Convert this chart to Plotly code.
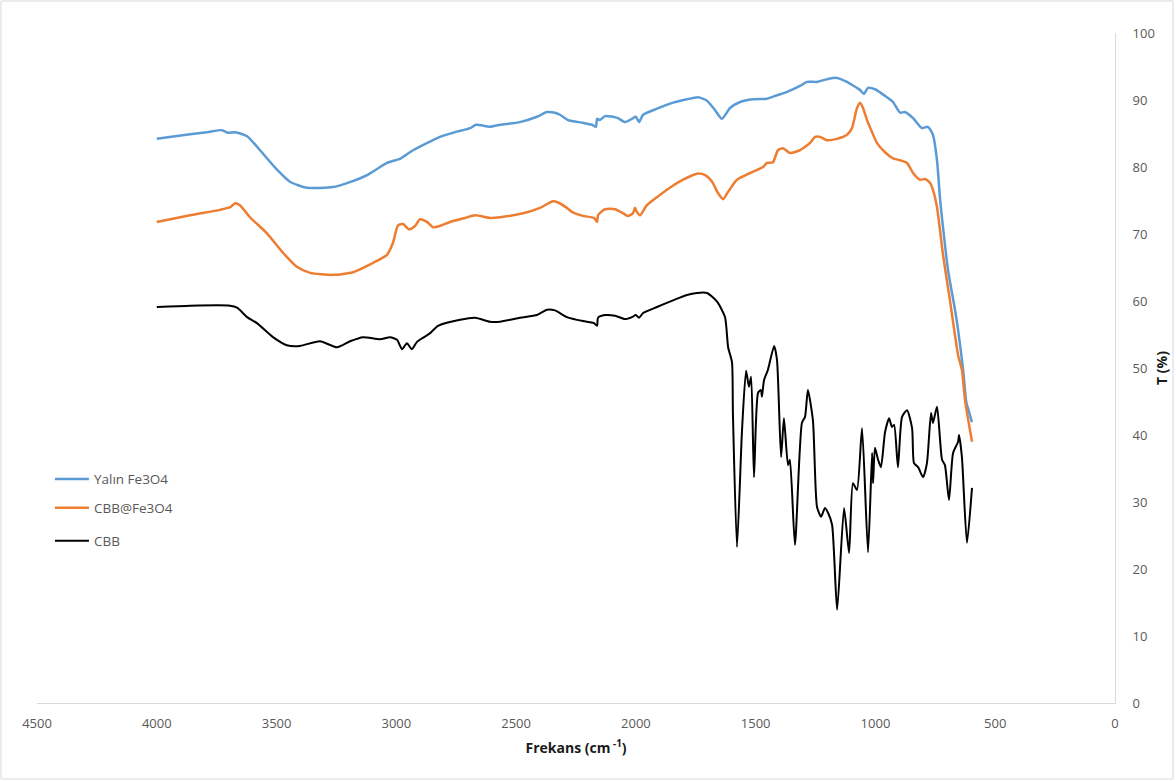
import plotly.graph_objects as go

# FTIR spectra: wavenumber (cm-1) vs transmittance (%)
fe3o4_x = [4000, 3861, 3790, 3728, 3703, 3673, 3623, 3569, 3498, 3444, 3373, 3264,
           3206, 3122, 3039, 2985, 2972, 2930, 2818, 2755, 2692, 2667, 2609, 2567,
           2484, 2413, 2371, 2338, 2317, 2283, 2221, 2183, 2167, 2162, 2150, 2129,
           2096, 2075, 2045, 2016, 2000, 1987, 1970, 1912, 1845, 1787, 1741, 1703,
           1670, 1641, 1607, 1565, 1511, 1453, 1411, 1369, 1315, 1286, 1244, 1202,
           1160, 1119, 1077, 1064, 1048, 1031, 1002, 952, 927, 897, 877, 843, 806,
           781, 760, 743, 730, 718, 697, 668, 655, 634, 622, 618, 609, 597]
fe3o4_y = [84.2, 84.9, 85.2, 85.5, 85.1, 85.2, 84.6, 82.5, 79.6, 77.8, 76.9, 77.0,
           77.6, 78.8, 80.6, 81.2, 81.5, 82.5, 84.5, 85.2, 85.8, 86.3, 86.0, 86.3,
           86.7, 87.5, 88.2, 88.1, 87.8, 87.0, 86.6, 86.3, 86.0, 87.2, 87.0, 87.6,
           87.5, 87.3, 86.7, 87.2, 87.5, 86.7, 87.8, 88.7, 89.6, 90.1, 90.4, 89.9,
           88.5, 87.2, 88.8, 89.7, 90.1, 90.2, 90.7, 91.2, 92.1, 92.7, 92.7, 93.1,
           93.3, 92.7, 91.8, 91.5, 90.9, 91.8, 91.6, 90.4, 89.7, 88.1, 88.2, 87.3, 85.8,
           86.0, 84.8, 81.0, 75.1, 71.0, 64.6, 58.7, 55.7, 49.7, 45.2, 44.5, 43.4, 41.9]

cbb_fe3o4_x = [4000, 3861, 3736, 3694, 3673, 3653, 3611, 3540, 3473, 3415, 3360, 3264,
               3181, 3097, 3039, 3014, 2993, 2972, 2947, 2922, 2901, 2872, 2847, 2818,
               2776, 2713, 2671, 2609, 2567, 2471, 2400, 2346, 2325, 2288, 2267, 2221,
               2175, 2162, 2158, 2129, 2087, 2054, 2033, 2012, 2004, 1996, 1983, 1954,
               1912, 1858, 1803, 1745, 1711, 1682, 1657, 1636, 1615, 1578, 1524, 1469,
               1453, 1428, 1407, 1386, 1357, 1315, 1302, 1273, 1252, 1231, 1202, 1160,
               1119, 1098, 1077, 1064, 1052, 1035, 1014, 994, 960, 927, 897, 868, 843,
               814, 793, 772, 760, 743, 718, 689, 655, 639, 626, 597]
cbb_fe3o4_y = [71.8, 72.8, 73.6, 74.0, 74.6, 74.3, 72.5, 70.1, 67.2, 65.1, 64.2, 63.9,
               64.3, 65.7, 66.9, 68.7, 71.3, 71.5, 70.7, 71.2, 72.2, 71.8, 71.0, 71.2,
               71.8, 72.4, 72.8, 72.4, 72.5, 73.1, 73.9, 74.9, 74.7, 73.9, 73.3, 72.7,
               72.4, 71.8, 72.8, 73.7, 73.7, 73.1, 72.7, 73.1, 73.9, 73.3, 72.8, 74.3,
               75.5, 76.9, 78.1, 79.0, 78.8, 77.8, 76.1, 75.2, 76.3, 78.1, 79.1, 80.0,
               80.6, 80.7, 82.5, 82.8, 82.1, 82.5, 82.8, 83.6, 84.5, 84.5, 84.0, 84.2,
               84.8, 85.8, 88.8, 89.6, 88.8, 87.0, 85.2, 83.6, 82.2, 81.3, 81.0, 80.6, 79.1,
               78.1, 78.2, 77.6, 76.6, 74.0, 66.9, 60.1, 51.9, 49.7, 45.2, 39.0]

cbb_x = [4000, 3861, 3694, 3665, 3623, 3582, 3515, 3457, 3402, 3319, 3248, 3193,
         3139, 3068, 3026, 2997, 2976, 2956, 2935, 2914, 2889, 2859, 2826, 2734,
         2671, 2609, 2567, 2484, 2413, 2371, 2338, 2288, 2221, 2175, 2162, 2158,
         2129, 2087, 2045, 2016, 2000, 1987, 1970, 1912, 1845, 1787, 1745, 1703,
         1661, 1628, 1615, 1599, 1595, 1578, 1557, 1540, 1528, 1519, 1507, 1490,
         1478, 1474, 1465, 1449, 1423, 1411, 1394, 1382, 1365, 1357, 1336, 1307,
         1294, 1282, 1261, 1244, 1227, 1211, 1198, 1181, 1160, 1131, 1110, 1094,
         1077, 1056, 1031, 1014, 1010, 1002, 989, 977, 960, 943, 931, 922, 906,
         889, 868, 847, 839, 822, 801, 785, 768, 760, 743, 722, 710, 693, 676,
         655, 651, 639, 618, 597]
cbb_y = [59.1, 59.3, 59.3, 59.0, 57.6, 56.7, 54.6, 53.4, 53.3, 54.0, 53.1, 54.0,
         54.6, 54.3, 54.6, 54.2, 52.8, 53.7, 52.8, 53.9, 54.5, 55.2, 56.3, 57.2,
         57.5, 56.9, 56.9, 57.5, 57.9, 58.7, 58.6, 57.6, 57.0, 56.7, 56.3, 57.5,
         57.9, 57.8, 57.3, 57.6, 57.9, 57.5, 58.2, 59.1, 60.1, 60.9, 61.2, 61.2,
         59.9, 57.6, 53.1, 50.9, 43.3, 23.3, 40.7, 49.6, 47.2, 48.7, 33.7, 46.3,
         46.7, 45.7, 48.2, 49.7, 53.3, 51.2, 36.7, 42.5, 35.5, 36.3, 23.6, 41.8,
         42.7, 46.7, 42.2, 29.3, 27.8, 29.1, 28.4, 26.6, 13.9, 29.1, 22.4, 32.8,
         31.8, 41.0, 22.5, 37.3, 32.8, 38.1, 36.3, 35.2, 40.4, 42.5, 41.2, 41.5, 35.2,
         42.7, 43.7, 41.0, 35.8, 35.2, 33.7, 35.8, 43.3, 41.8, 44.2, 36.3, 35.5, 30.3, 37.3,
         39.0, 40.0, 36.7, 23.9, 32.1]

x_ticks = [4500, 4000, 3500, 3000, 2500, 2000, 1500, 1000, 500, 0]
y_ticks = [0, 10, 20, 30, 40, 50, 60, 70, 80, 90, 100]

FONT = "'Open Sans', Lato, sans-serif"
GREY = "#595959"

series = [
    ("Yalın Fe3O4", fe3o4_x, fe3o4_y, "#5B9BD5", 2.5, "legend"),
    ("CBB@Fe3O4", cbb_fe3o4_x, cbb_fe3o4_y, "#ED7D31", 2.5, "legend2"),
    ("CBB", cbb_x, cbb_y, "#000000", 2.0, "legend3"),
]

fig = go.Figure()
for name, xs, ys, color, width, leg in series:
    fig.add_trace(go.Scatter(
        x=xs, y=ys, name=name, mode="lines",
        line=dict(color=color, width=width, shape="spline", smoothing=0.6),
        legend=leg,
    ))

legend_common = dict(
    x=0.012, xanchor="left", yanchor="middle",
    bgcolor="rgba(0,0,0,0)", borderwidth=0, itemwidth=34,
    font=dict(family=FONT, size=13.5, color=GREY),
)

fig.update_layout(
    width=1176, height=782,
    margin=dict(l=37, r=61, t=33, b=79, autoexpand=False),
    paper_bgcolor="white", plot_bgcolor="white",
    font=dict(family=FONT, size=13, color=GREY),
    showlegend=True,
    legend=dict(y=0.334, **legend_common),
    legend2=dict(y=0.291, **legend_common),
    legend3=dict(y=0.242, **legend_common),
    xaxis=dict(
        range=[4500, 0], tickmode="array", tickvals=x_ticks, automargin=False,
        showgrid=False, zeroline=False, showline=True,
        linecolor="#d9d9d9", linewidth=1, ticks="", ticklabelstandoff=8,
        tickfont=dict(family=FONT, size=13, color=GREY),
        title=dict(text="<b>Frekans (cm<sup> -1</sup>)</b>",
                   font=dict(family=FONT, size=14, color="#1a1a1a"), standoff=12),
    ),
    yaxis=dict(
        range=[0, 100], tickmode="array", tickvals=y_ticks, side="right",
        automargin=False,
        showgrid=False, zeroline=False, showline=True,
        linecolor="#d9d9d9", linewidth=1, ticks="", ticklabelstandoff=14,
        tickfont=dict(family=FONT, size=13, color=GREY),
        title=dict(text="<b>T (%)</b>",
                   font=dict(family=FONT, size=14, color="#1a1a1a"), standoff=3),
    ),
    shapes=[dict(
        type="rect", xref="paper", yref="paper",
        x0=-0.0334, x1=1.0538, y0=-0.1134, y1=1.0478,
        line=dict(color="#d9d9d9", width=1), layer="below",
    )],
)

fig.write_html("out.html")
